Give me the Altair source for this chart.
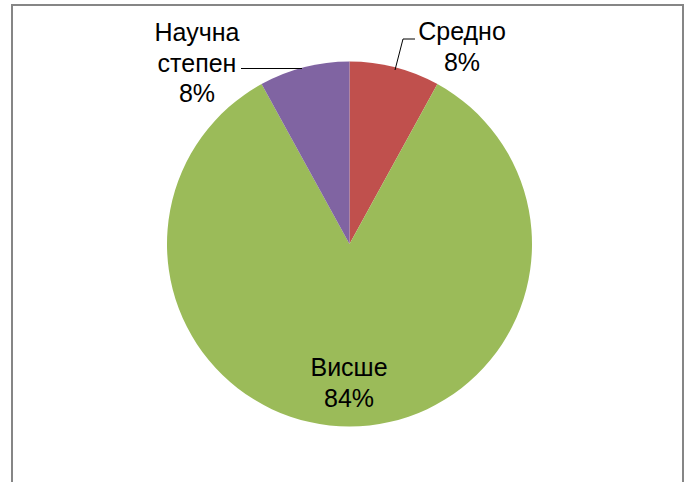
import altair as alt
import pandas as pd

# Education level shares
categories = ["Средно", "Висше", "Научна степен"]
shares = [8, 84, 8]
label_lines = [["Средно"], ["Висше"], ["Научна", "степен"]]
colors = ["#C0504D", "#9BBB59", "#8064A2"]

df = pd.DataFrame({
    "category": categories,
    "share": shares,
    "order": list(range(len(categories))),
})
df["label"] = ["\n".join(lines + [f"{v}%"]) for lines, v in zip(label_lines, shares)]

# label anchor (center x, first-line baseline y)
label_pos = {"Средно": (462, 40), "Висше": (349, 376), "Научна степен": (197, 41)}
df["lx"] = [label_pos[c][0] for c in categories]
df["ly"] = [label_pos[c][1] for c in categories]

W, H = 692, 482
CX, CY, R = 349.5, 244, 182.5

color_scale = alt.Scale(domain=categories, range=colors)

pie = alt.Chart(df).mark_arc(outerRadius=R).encode(
    theta=alt.Theta("share:Q", stack=True),
    order=alt.Order("order:Q"),
    color=alt.Color("category:N", scale=color_scale, legend=None),
    x=alt.value(CX),
    y=alt.value(CY),
)

labels = alt.Chart(df).mark_text(
    font="Liberation Sans", fontSize=25, color="#000000",
    align="center", baseline="alphabetic", lineBreak="\n", lineHeight=30.5,
).encode(
    x=alt.X("lx:Q", scale=None),
    y=alt.Y("ly:Q", scale=None),
    text="label:N",
)

# leader lines
lead_df = pd.DataFrame({
    "x": [395, 403, 241],
    "y": [70, 39, 68.5],
    "x2": [403, 415, 302],
    "y2": [39, 39, 68.5],
})
leaders = alt.Chart(lead_df).mark_rule(color="#000000", strokeWidth=1).encode(
    x=alt.X("x:Q", scale=None),
    y=alt.Y("y:Q", scale=None),
    x2="x2:Q",
    y2="y2:Q",
)

frame = alt.Chart(pd.DataFrame({"a": [0]})).mark_rect(
    fill=None, stroke="#868686", strokeWidth=2
).encode(
    x=alt.value(12), x2=alt.value(683), y=alt.value(5), y2=alt.value(520),
)

chart = alt.layer(frame, pie, leaders, labels).properties(
    width=W, height=H, padding=0, autosize=alt.AutoSizeParams(type="none"),
    background="#FFFFFF",
).configure_view(stroke=None)

chart.save("out.html", embed_options={"renderer": "svg", "actions": False})
